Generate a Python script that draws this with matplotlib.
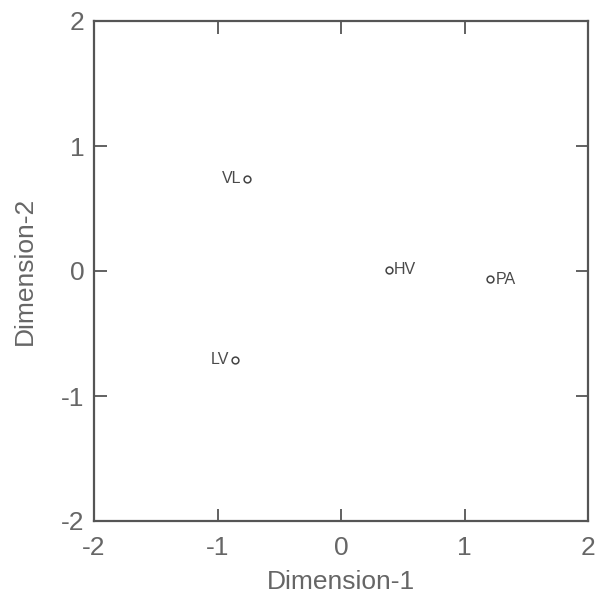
import matplotlib
matplotlib.use("Agg")
import matplotlib.pyplot as plt

labels = ["VL", "LV", "HV", "PA"]
dim1 = [-0.76, -0.86, 0.39, 1.21]
dim2 = [0.74, -0.71, 0.01, -0.065]
label_side = ["left", "left", "right", "right"]
ticks = [-2, -1, 0, 1, 2]

plt.rcParams['font.family'] = ['Liberation Sans', 'DejaVu Sans']
gray = "#555555"
textgray = "#666666"

fig = plt.figure(figsize=(6.02, 5.99), dpi=100)
ax = fig.add_axes([94/602, 78/599, 494/602, 500/599])

ax.scatter(dim1, dim2, s=24, facecolors="white", edgecolors="#444444", linewidths=1.1, zorder=3)
for x, y, t, side in zip(dim1, dim2, labels, label_side):
    if side == "left":
        ax.annotate(t, (x, y), xytext=(-4, 0), textcoords="offset points",
                    ha="right", va="center", fontsize=11.5, color="#4a4a4a")
    else:
        ax.annotate(t, (x, y), xytext=(3.5, 0), textcoords="offset points",
                    ha="left", va="center", fontsize=11.5, color="#4a4a4a")

ax.set_xlim(-2, 2)
ax.set_ylim(-2, 2)
ax.set_xticks(ticks)
ax.set_yticks(ticks)
ax.set_xticklabels([str(t) for t in ticks])
ax.set_yticklabels([str(t) for t in ticks])
ax.tick_params(direction="in", length=9, width=1.3, color=gray,
               top=True, right=True, labelsize=19, labelcolor=textgray)
ax.tick_params(axis="x", pad=11)
ax.tick_params(axis="y", pad=7)
for sp in ax.spines.values():
    sp.set_linewidth(1.6)
    sp.set_color(gray)

ax.set_xlabel("Dimension-1", fontsize=19, color=textgray, labelpad=7)
ax.set_ylabel("Dimension-2", fontsize=19, color=textgray, labelpad=17)

fig.savefig("out.png", dpi=100)
